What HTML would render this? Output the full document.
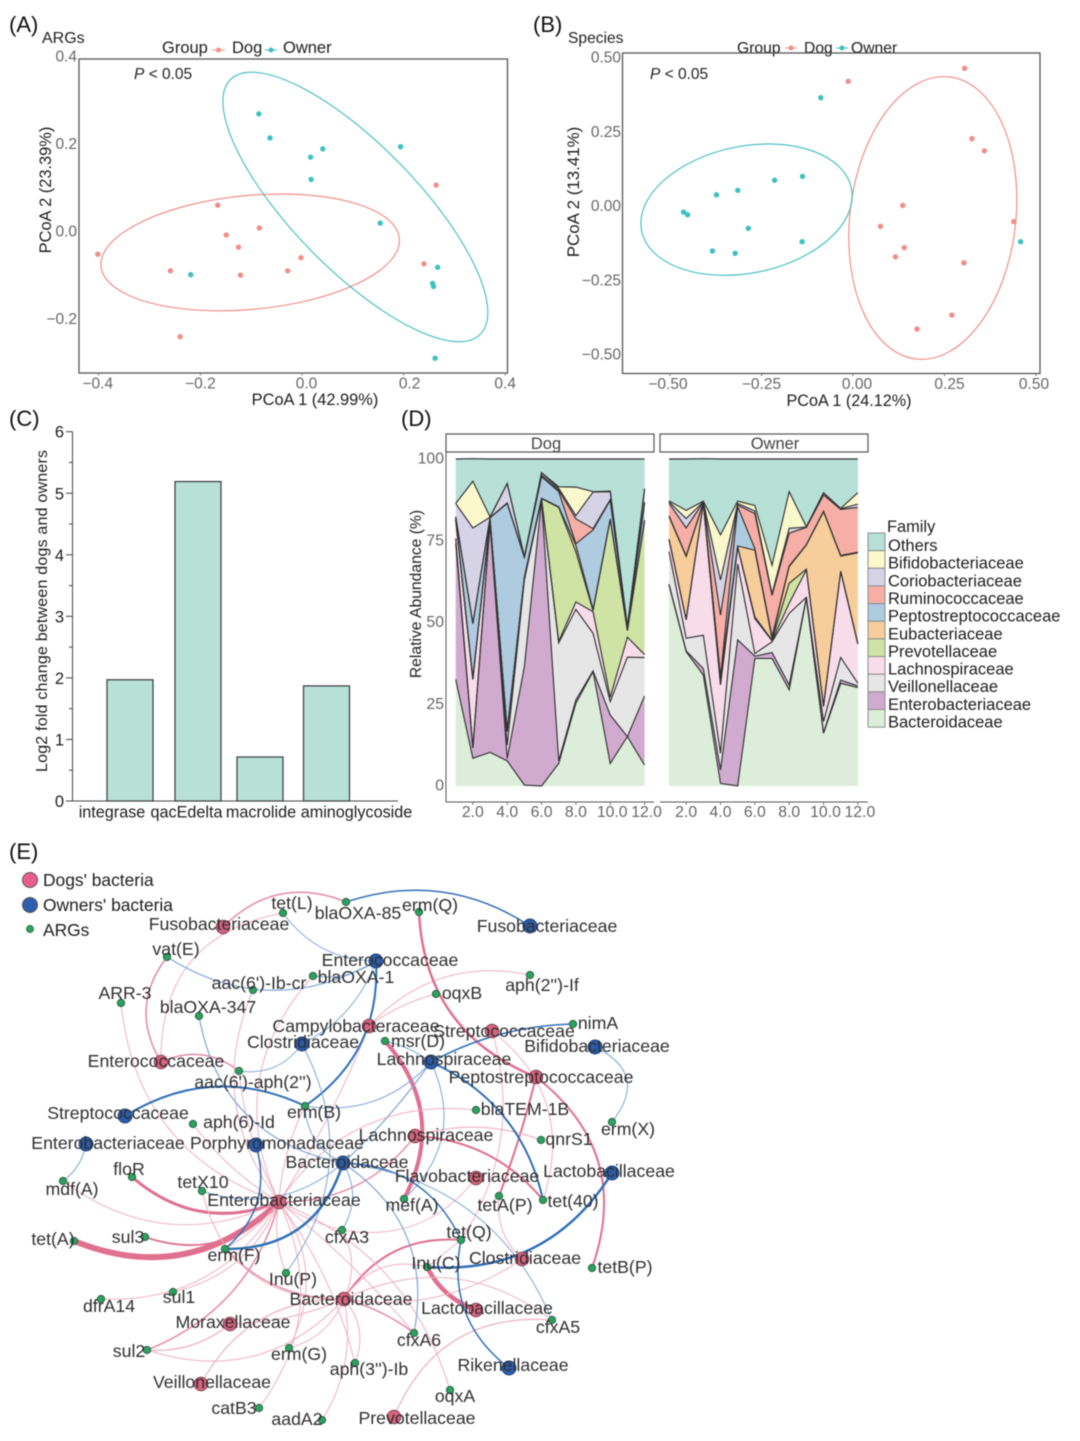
<!DOCTYPE html>
<html lang="en">
<head>
<meta charset="utf-8">
<title>ARG and microbiome comparison between dogs and owners</title>
<style>
html,body{margin:0;padding:0;background:#fff;width:1080px;height:1441px;overflow:hidden}
svg{display:block;filter:blur(.5px);font-family:"Liberation Sans",Arial,sans-serif}
text{fill:#202020}
.tick{fill:#666}
</style>
</head>
<body>
<svg id="figure" xmlns="http://www.w3.org/2000/svg" width="1080" height="1441" viewBox="0 0 1080 1441">
  <rect x="0" y="0" width="1080" height="1441" fill="#fff"/>
  <text x="9" y="32" font-size="22" style="fill:#111">(A)</text>
  <text x="533" y="32" font-size="22" style="fill:#111">(B)</text>
  <text x="9" y="426" font-size="22" style="fill:#111">(C)</text>
  <text x="401" y="426" font-size="22" style="fill:#111">(D)</text>
  <text x="9" y="859" font-size="22" style="fill:#111">(E)</text>

  <text x="42" y="43" font-size="16">ARGs</text>
  <text x="162" y="53" font-size="16.5">Group</text>
  <line x1="212" y1="50" x2="225" y2="50" stroke="#f28e86"/>
  <circle cx="218.5" cy="50" r="2.5" fill="#f28e86"/>
  <text x="232" y="53" font-size="16.5">Dog</text>
  <line x1="265" y1="50" x2="277" y2="50" stroke="#3fc0c3"/>
  <circle cx="271" cy="50" r="2.5" fill="#3fc0c3"/>
  <text x="283" y="53" font-size="16.5">Owner</text>
  <text x="134" y="79" font-size="15.5"><tspan font-style="italic">P</tspan> &lt; 0.05</text>
  <text x="315" y="405" font-size="16.4" text-anchor="middle">PCoA 1 (42.99%)</text>
  <text transform="translate(51,190) rotate(-90)" font-size="16.4" text-anchor="middle">PCoA 2 (23.39%)</text>

  <text x="568" y="43" font-size="15.6">Species</text>
  <text x="737" y="53" font-size="15.7">Group</text>
  <line x1="785" y1="48" x2="797" y2="48" stroke="#f28e86"/>
  <circle cx="791" cy="48" r="2.5" fill="#f28e86"/>
  <text x="804" y="53" font-size="15.7">Dog</text>
  <line x1="836" y1="48" x2="848" y2="48" stroke="#3fc0c3"/>
  <circle cx="842" cy="48" r="2.5" fill="#3fc0c3"/>
  <text x="851" y="53" font-size="15.7">Owner</text>
  <text x="650" y="79" font-size="15.5"><tspan font-style="italic">P</tspan> &lt; 0.05</text>
  <text x="849" y="406" font-size="16.2" text-anchor="middle">PCoA 1 (24.12%)</text>
  <text transform="translate(579,192) rotate(-90)" font-size="16.9" text-anchor="middle">PCoA 2 (13.41%)</text>

  <text transform="translate(47,611) rotate(-90)" font-size="16" text-anchor="middle" textLength="322">Log2 fold change between dogs and owners</text>

  <text transform="translate(421,594) rotate(-90)" font-size="15.7" text-anchor="middle">Relative Abundance (%)</text>
  <rect x="446" y="434" width="208" height="18" fill="#fff" stroke="#555" stroke-width="1.2"/>
  <text x="546" y="449" font-size="16.5" text-anchor="middle" style="fill:#444">Dog</text>
  <rect x="660" y="434" width="208" height="18" fill="#fff" stroke="#555" stroke-width="1.2"/>
  <text x="775" y="449" font-size="16.5" text-anchor="middle" style="fill:#444">Owner</text>
  <text x="887" y="532" font-size="16.4">Family</text>

  <circle cx="30" cy="880" r="7.5" fill="#e85d8a" stroke="#555"/>
  <text x="43" y="886" font-size="17.4">Dogs' bacteria</text>
  <circle cx="30" cy="905" r="7.5" fill="#2f5cab" stroke="#555"/>
  <text x="43" y="911" font-size="17.4">Owners' bacteria</text>
  <circle cx="30" cy="929" r="3.6" fill="#2ca25f" stroke="#2b5b3e" stroke-width=".7"/>
  <text x="43" y="936" font-size="17.4">ARGs</text>

  <g id="panel-a"></g>
  <g id="panel-b"></g>
  <g id="panel-c"></g>
  <g id="panel-d"></g>
  <g id="panel-e"></g>
</svg>

<script>
/* ---------- Panel A data ---------- */
const argsDogX=[-0.402,-0.259,-0.240,-0.166,-0.149,-0.125,-0.121,-0.084,-0.028,-0.002,0.240,0.264];
const argsDogY=[-0.053,-0.091,-0.242,0.059,-0.009,-0.037,-0.101,0.007,-0.091,-0.061,-0.075,0.105];
const argsOwnerX=[-0.219,-0.085,-0.063,0.017,0.041,0.018,0.194,0.154,0.267,0.257,0.259,0.262];
const argsOwnerY=[-0.100,0.268,0.213,0.169,0.188,0.118,0.193,0.018,-0.083,-0.120,-0.127,-0.291];
const argsDogCentre=[-0.102,-0.049];
const argsOwnerCentre=[0.105,0.055];
const argsXTicks=[-0.4,-0.2,0,0.2,0.4];
const argsYTicks=[-0.2,0,0.2,0.4];

/* ---------- Panel B data ---------- */
const speciesDogX=[-0.013,0.305,0.325,0.359,0.136,0.075,0.140,0.116,0.303,0.439,0.270,0.175];
const speciesDogY=[0.418,0.462,0.225,0.184,0.000,-0.070,-0.142,-0.173,-0.193,-0.054,-0.369,-0.416];
const speciesOwnerX=[-0.088,-0.138,-0.214,-0.315,-0.373,-0.463,-0.452,-0.286,-0.139,-0.384,-0.322,0.458];
const speciesOwnerY=[0.363,0.098,0.085,0.051,0.036,-0.022,-0.031,-0.077,-0.122,-0.153,-0.161,-0.122];
const speciesDogCentre=[0.218,-0.042];
const speciesOwnerCentre=[-0.291,-0.014];
const speciesXTicks=[-0.5,-0.25,0,0.25,0.5];
const speciesYTicks=[-0.5,-0.25,0,0.25,0.5];

/* ---------- Panel C data ---------- */
const geneCategories=['integrase','qacEdelta','macrolide','aminoglycoside'];
const geneFoldChange=[1.97,5.19,0.715,1.87];
const foldTicks=[0,1,2,3,4,5,6];

/* ---------- Panel D data (percent per family, per sample) ---------- */
const families=['Others','Bifidobacteriaceae','Coriobacteriaceae','Ruminococcaceae','Peptostreptococcaceae','Eubacteriaceae','Prevotellaceae','Lachnospiraceae','Veillonellaceae','Enterobacteriaceae','Bacteroidaceae'];
const sampleIds=[1,2,3,4,5,6,7,8,9,10,11,12];
const sampleTicks=[2,4,6,8,10,12];
const abundanceTicks=[0,25,50,75,100];
const dogBacteroidaceae=[32.6,8.5,10.3,7.7,0.3,0,6.9,25.3,35.0,6.9,15.1,6.4];
const dogEnterobacteriaceae=[41.6,3.1,70.0,0.7,36.2,87.5,0.8,1.0,0.2,14.8,0,21.1];
const dogVeillonellaceae=[1.5,0.2,0.5,4.1,26.5,0.2,36.1,27.7,11.5,4.1,24.3,11.8];
const dogLachnospiraceae=[5.6,20.7,0.5,4.1,0.5,0.1,0.4,2.3,6.6,1.3,6.1,0.9];
const dogPrevotellaceae=[0.2,0.2,0.2,0.2,0.2,0.1,41.0,15.3,0.3,54.4,2.0,40.6];
const dogEubacteriaceae=[0.2,0.2,0.2,0.2,0.2,0.1,0.2,2.0,0.4,0.2,0.2,0.5];
const dogPeptostreptococcaceae=[0.6,16.7,0.3,69.4,6.0,6.6,4.6,0.5,24.3,5.7,0.5,5.1];
const dogRuminococcaceae=[0,0.2,0.1,0.2,0.1,0.5,0.5,7.6,0.4,0.2,0.2,0.5];
const dogCoriobacteriaceae=[4.1,29.1,0.1,5.9,0.1,0.7,0.5,1.0,11.2,2.4,0.2,3.6];
const dogBifidobacteriaceae=[0,14.3,0.1,0,0,0,0.5,8.7,0.1,0.2,0.1,0.5];
const dogOthers=[13.6,6.9,17.7,7.5,29.9,4.2,8.5,8.6,10.0,9.8,51.3,9.0];
const ownerBacteroidaceae=[61.5,41.1,33.9,0.8,0,39.0,39.0,29.4,57.4,16.1,31.4,30.1];
const ownerEnterobacteriaceae=[0.2,0.2,2.0,4.1,44.7,0.7,1.8,1.5,0.2,0.2,1.0,0.5];
const ownerVeillonellaceae=[10.0,3.9,10.2,5.1,23.2,0.8,3.3,21.9,0.1,3.4,6.9,0.8];
const ownerLachnospiraceae=[3.6,5.6,40.3,20.9,5.1,10.7,0.3,3.1,8.4,4.6,26.2,12.0];
const ownerPrevotellaceae=[0.2,0.2,0.1,0.5,0.2,0.5,0.2,6.1,0.2,0.2,0.2,0.2];
const ownerEubacteriaceae=[6.9,19.2,0.1,1.5,0.2,20.4,0.5,5.1,7.4,59.4,4.6,27.7];
const ownerPeptostreptococcaceae=[0.2,0.2,0.1,0.5,12.0,0.5,0.5,0.2,0.1,0.1,0.2,0.2];
const ownerRuminococcaceae=[3.9,8.5,0.1,18.9,0.5,10.7,12.7,10.0,5.3,5.0,14.1,13.7];
const ownerCoriobacteriaceae=[0.4,2.9,0.1,10.7,0.5,0.8,0.5,1.5,0.1,0.1,0.2,1.0];
const ownerBifidobacteriaceae=[0.3,2.5,0.2,13.8,0.7,1.7,8.7,11.2,0.1,0.6,0.1,3.5];
const ownerOthers=[12.8,15.7,13.0,23.2,12.9,14.2,32.5,10.0,20.7,10.3,15.1,10.3];

/* ---------- Panel E data ---------- */
const networkNodes=[
['tetL','tet(L)','a',283,913,292,903],['b85','blaOXA-85','a',346,902,358,913],['ermQ','erm(Q)','a',419,912,430,905],
['vatE','vat(E)','a',167,957,176,949],['aacIb',"aac(6')-Ib-cr",'a',253,990,259,983],['b1','blaOXA-1','a',313,976,356,977],
['arr3','ARR-3','a',121,1003,125,993],['b347','blaOXA-347','a',199,1016,208,1007],['aacAph',"aac(6')-aph(2'')",'a',239,1071,253,1082],
['ermB','erm(B)','a',305,1106,314,1112],['aph6','aph(6)-Id','a',193,1124,239,1122],['oqxB','oqxB','a',436,994,462,993],
['aph2',"aph(2'')-If",'a',530,975,542,985],['msrD','msr(D)','a',385,1041,418,1041],['nimA','nimA','a',573,1024,598,1023],
['tem','blaTEM-1B','a',476,1110,525,1109],['qnr','qnrS1','a',541,1140,569,1139],['ermX','erm(X)','a',612,1122,628,1129],
['mdfA','mdf(A)','a',63,1181,72,1189],['floR','floR','a',132,1177,129,1169],['tetX','tetX10','a',202,1191,203,1182],
['tetA','tet(A)','a',74,1241,53,1239],['sul3','sul3','a',145,1237,128,1237],['ermF','erm(F)','a',225,1249,234,1255],
['inuP','Inu(P)','a',286,1273,293,1279],['sul1','sul1','a',173,1292,179,1297],['dfr','dfrA14','a',101,1299,109,1306],
['sul2','sul2','a',147,1350,129,1351],['ermG','erm(G)','a',289,1348,299,1354],['catB','catB3','a',259,1408,234,1408],
['aadA','aadA2','a',322,1420,297,1419],['cfx3','cfxA3','a',342,1230,347,1237],['mefA','mef(A)','a',404,1199,412,1205],
['tetAP','tetA(P)','a',499,1196,505,1205],['tet40','tet(40)','a',543,1200,573,1201],['tetQ','tet(Q)','a',461,1240,469,1232],
['inuC','Inu(C)','a',427,1267,436,1263],['tetBP','tetB(P)','a',592,1268,625,1267],['cfx5','cfxA5','a',552,1320,558,1327],
['cfx6','cfxA6','a',414,1333,419,1340],['aph3',"aph(3'')-Ib",'a',355,1363,369,1369],['oqxA','oqxA','a',450,1390,455,1396],
['fusoD','Fusobacteriaceae','d',223,927,219,924],['entcD','Enterococcaceae','d',161,1062,156,1061],['campD','Campylobacteraceae','d',369,1026,356,1026],
['strepD','Streptococcaceae','d',492,1031,504,1031],['peptD','Peptostreptococcaceae','d',536,1077,541,1077],['lachD','Lachnospiraceae','d',415,1136,426,1135],
['flavD','Flavobacteriaceae','d',476,1178,467,1176],['entbD','Enterobacteriaceae','d',279,1202,284,1200],['bactD','Bacteroidaceae','d',344,1299,351,1299],
['moraD','Moraxellaceae','d',230,1324,233,1322],['veilD','Veillonellaceae','d',201,1384,212,1382],['closD','Clostridiaceae','d',522,1259,525,1258],
['lactD','Lactobacillaceae','d',476,1310,487,1308],['prevD','Prevotellaceae','d',394,1417,417,1418],
['fusoO','Fusobacteriaceae','o',530,926,547,926],['entcO','Enterococcaceae','o',376,961,390,960],['closO','Clostridiaceae','o',302,1044,303,1042],
['lachO','Lachnospiraceae','o',431,1062,444,1059],['bifiO','Bifidobacteriaceae','o',595,1047,597,1046],['strepO','Streptococcaceae','o',125,1116,118,1113],
['entbO','Enterobacteriaceae','o',86,1144,108,1143],['porpO','Porphyromonadaceae','o',256,1145,277,1143],['bactO','Bacteroidaceae','o',343,1163,347,1162],
['lactO','Lactobacillaceae','o',612,1173,609,1171],['rikeO','Rikenellaceae','o',509,1368,513,1365]
];
const blueEdges=[
['b85','fusoO',1.5,.24],['tetL','entcO',1,-.25],['vatE','entcO',1.2,-.3],['b1','entcO',1,-.2],['entcO','ermB',2,.28],['entcO','closO',1,.2],
['closO','aacAph',1,.3],['closO','inuP',1,.31],['b347','bactO',1.2,-.34],['strepO','ermB',2,.27],['entbO','mdfA',1,.2],['porpO','ermF',1.5,.32],
['ermF','bactO',2.5,-.37],['tetX','bactO',1,-.28],['lachO','msrD',1,-.1],['lachO','nimA',1.5,.12],['lachO','ermB',1,.27],['lachO','bactO',1.2,.05],
['lachO','tet40',2,.25],['lachO','mefA',1,.36],['bifiO','ermX',1,.62],['bactO','cfx3',1,.3],['bactO','cfx6',1.2,.33],['bactO','tetQ',1.5,.31],
['bactO','cfx5',1,.29],['tetQ','rikeO',1.5,-.31],['inuC','lactO',2.5,-.3],['ermB','bactO',1,-.3]
];
const pinkEdges=[
['fusoD','b85',1.5,.33],['tetL','entcD',1,-.42],['vatE','entcD',1.5,-.34],['entcD','aacAph',1.5,.3],['arr3','entbD',1,-.32],['aacIb','entbD',1,-.29],
['b1','entbD',1,-.33],['aacAph','entbD',1,-.1],['aph6','entbD',1,-.1],['campD','oqxB',1,.1],['campD','aph2',1,.28],['campD','entbD',1,.05],
['ermQ','peptD',2.5,-.32],['peptD','tetAP',2,.03],['peptD','tetBP',2,.36],['strepD','tet40',1,.35],['strepD','tetQ',1,.23],['tetAP','closD',1,-.25],
['msrD','mefA',4,.34],['lachD','tet40',2,.22],['lachD','qnr',1.2,.17],['lachD','entbD',1.4,.25],['tem','entbD',1,-.3],['flavD','cfx3',1,.3],
['tetQ','bactD',2,-.3],['inuC','lactD',4.5,-.2],['inuC','bactD',1,-.35],['tetQ','inuC',1,0],['closD','bactD',1,.2],['cfx5','prevD',1.2,-.36],
['cfx5','bactD',1,-.3],['bactD','cfx6',1.5,.1],['ermF','bactD',1.5,-.22],['sul2','bactD',1,-.32],['ermG','bactD',1,-.25],['aph3','bactD',1,-.3],
['aadA','bactD',1,-.2],['bactD','moraD',1,.1],['moraD','sul2',1.2,.2],['veilD','bactD',1.2,.3],['entbD','sul2',1.5,.25],['tetA','entbD',6,-.32],
['floR','entbD',3,-.3],['sul3','entbD',1.8,-.33],['mdfA','entbD',1,-.3],['tetX','bactD',1,-.4],['sul1','entbD',1,-.26],['dfr','entbD',1,-.3],
['entbD','ermG',1,.3],['catB','entbD',1,-.3],['entbD','oqxA',1,.24],['entbD','aph3',1,.1],['entbD','cfx3',1,-.1],['entbD','cfx6',1,.05],
['entbD','ermB',1,.1],['entbD','inuP',1,-.15],['entbD','ermF',1,.1],['cfx3','bactD',1,.25]
];

/* ---------- helpers ---------- */
const NS='http://www.w3.org/2000/svg';
function make(tag,attrs,parent){
  const n=document.createElementNS(NS,tag);
  for(const k in attrs){n.setAttribute(k,attrs[k]);}
  parent.appendChild(n);
  return n;
}
function minusFmt(v,d){return (v<0?'\u2212':'')+Math.abs(v).toFixed(d);}
function ellipsePath(cx,cy,a,b,deg){
  const t=deg*Math.PI/180,c=Math.cos(t),s=Math.sin(t);
  const ax=a*c,ay=a*s;
  return 'M'+(cx-ax)+','+(cy-ay)+' A'+a+','+b+' '+deg+' 1 1 '+(cx+ax)+','+(cy+ay)+' A'+a+','+b+' '+deg+' 1 1 '+(cx-ax)+','+(cy-ay)+'Z';
}

/* ---------- PCoA panels ---------- */
function drawPcoa(root,prefix,box,sx,sy,xt,yt,dec,dogX,dogY,ownX,ownY,dogE,ownE,yLabelRight,nudge){
  const frame=make('rect',{x:box[0],y:box[1],width:box[2]-box[0],height:box[3]-box[1],fill:'none',stroke:'#555','stroke-width':1.3},root);
  
  
  xt.forEach(function(v,i){
    const t=make('text',{x:sx(v)+nudge[i],y:box[3]+15.5,'font-size':15.5,'text-anchor':'middle',class:'tick'},root);
    t.textContent=minusFmt(v,dec);
    
    
    const m=make('line',{x1:sx(v),x2:sx(v),y1:box[3],y2:box[3]+2.5,stroke:'#777'},root);
    
    
  });
  yt.forEach(function(v){
    const t=make('text',{x:yLabelRight,y:sy(v)+5.5,'font-size':15.5,'text-anchor':'end',class:'tick'},root);
    t.textContent=minusFmt(v,dec);
    
    
  });
  const e1=make('path',{d:ellipsePath(sx(dogE.c[0]),sy(dogE.c[1]),dogE.a,dogE.b,dogE.r),fill:'none',stroke:'#f0867e','stroke-width':1.1},root);
  
  
  const e2=make('path',{d:ellipsePath(sx(ownE.c[0]),sy(ownE.c[1]),ownE.a,ownE.b,ownE.r),fill:'none',stroke:'#3dbcc2','stroke-width':1.1},root);
  
  
  dogX.forEach(function(v,i){
    const p=make('circle',{cx:sx(v),cy:sy(dogY[i]),r:2.7,fill:'#f28e86'},root);
    
    
  });
  ownX.forEach(function(v,i){
    const p=make('circle',{cx:sx(v),cy:sy(ownY[i]),r:2.7,fill:'#3fc0c3'},root);
    
    
  });
}
const axA=function(v){return 302+508*v;};
const ayA=function(v){return 231-437*v;};
drawPcoa(document.getElementById('panel-a'),'panel-a',[79,59,507.5,373],axA,ayA,argsXTicks,argsYTicks,1,
  argsDogX,argsDogY,argsOwnerX,argsOwnerY,
  {c:argsDogCentre,a:149.8,b:56.9,r:-5.34},{c:argsOwnerCentre,a:178.4,b:62.2,r:45.63},77,[-1,0,4.5,6,0]);
const axB=function(v){return 853+366*v;};
const ayB=function(v){return 205.5-297*v;};
drawPcoa(document.getElementById('panel-b'),'panel-b',[622.5,53,1040,373.5],axB,ayB,speciesXTicks,speciesYTicks,2,
  speciesDogX,speciesDogY,speciesOwnerX,speciesOwnerY,
  {c:speciesDogCentre,a:142,b:82.9,r:-83.2},{c:speciesOwnerCentre,a:107,b:63.4,r:-11.46},621,[-2,0,4,5,-2]);

/* ---------- Panel C ---------- */
(function(){
  const root=document.getElementById('panel-c');
  const yC=function(v){return 801-61.55*v;};
  const xC=function(i){return 130+65.5*i;};
  const barShift=[0,2.5,-1,0];
  const labelShift=[-18,-9,0,30];
  const axisY=make('line',{x1:72.5,x2:72.5,y1:yC(6),y2:yC(0),stroke:'#444','stroke-width':1},root);
  
  
  const axisX=make('line',{x1:66,x2:398,y1:yC(0),y2:yC(0),stroke:'#444','stroke-width':1},root);
  
  
  foldTicks.forEach(function(v){
    const m=make('line',{x1:66,x2:72.5,y1:yC(v),y2:yC(v),stroke:'#444'},root);
    
    
    if(v<6){
      const mm=make('line',{x1:69,x2:72.5,y1:yC(v+.5),y2:yC(v+.5),stroke:'#444'},root);
      
      
    }
    const t=make('text',{x:64,y:yC(v)+6,'font-size':16.5,'text-anchor':'end'},root);
    t.textContent=String(v);
    
    
  });
  geneCategories.forEach(function(c,i){
    const r=make('rect',{x:xC(i)+barShift[i]-23,y:yC(geneFoldChange[i]),width:46,height:yC(0)-yC(geneFoldChange[i]),fill:'#b7e0d7',stroke:'#3a3a3a','stroke-width':1.2},root);
    
    
    const t=make('text',{x:xC(i)+labelShift[i],y:817.5,'font-size':16.2,'text-anchor':'middle'},root);
    t.textContent=c;
    
    
  });
})();

/* ---------- Panel D ---------- */
(function(){
  const root=document.getElementById('panel-d');
  const yD=function(v){return 786-3.27*v;};
  const colours=['#b7e0d7','#fbf8cd','#d6d3e7','#f6aea6','#aecbe0','#f7cd9b','#cfe3a4','#f8dcea','#e6e6e6','#d1abcf','#dcedd9'];
  const dogStack=[dogBacteroidaceae,dogEnterobacteriaceae,dogVeillonellaceae,dogLachnospiraceae,dogPrevotellaceae,dogEubacteriaceae,dogPeptostreptococcaceae,dogRuminococcaceae,dogCoriobacteriaceae,dogBifidobacteriaceae,dogOthers];
  const ownerStack=[ownerBacteroidaceae,ownerEnterobacteriaceae,ownerVeillonellaceae,ownerLachnospiraceae,ownerPrevotellaceae,ownerEubacteriaceae,ownerPeptostreptococcaceae,ownerRuminococcaceae,ownerCoriobacteriaceae,ownerBifidobacteriaceae,ownerOthers];
  const bottomUp=families.slice().reverse();
  const bottomUpColours=colours.slice().reverse();

  function facet(stack,x0,axisLeft,name){
    const xD=function(s){return x0+17.17*(s-1);};
    let lower=sampleIds.map(function(){return 0;});
    const lines=[];
    stack.forEach(function(series,k){
      const upper=lower.map(function(v,i){return v+series[i];});
      const topPts=sampleIds.map(function(s,i){return xD(s)+','+yD(upper[i]);});
      const lowPts=sampleIds.map(function(s,i){return xD(s)+','+yD(lower[i]);}).reverse();
      const a=make('polygon',{points:topPts.concat(lowPts).join(' '),fill:bottomUpColours[k],stroke:'none'},root);
      
      
      lines.push(topPts.join(' '));
      lower=upper;
    });
    lines.forEach(function(pts,k){
      const l=make('polyline',{points:pts,fill:'none',stroke:'#333','stroke-width':1.15,'stroke-linejoin':'miter'},root);
      
      
    });
    const ax=make('line',{x1:axisLeft,x2:axisLeft+208,y1:802,y2:802,stroke:'#555','stroke-width':1},root);
    
    
    sampleTicks.forEach(function(s){
      const m=make('line',{x1:xD(s),x2:xD(s),y1:802,y2:805,stroke:'#777'},root);
      
      
      const t=make('text',{x:xD(s)+(s>=10?2:0),y:817,'font-size':15.8,'text-anchor':'middle',class:'tick'},root);
      t.textContent=s.toFixed(1);
      
      
    });
  }
  facet(dogStack,455.7,446,'dog-facet');
  facet(ownerStack,669,660,'owner-facet');

  const yAxis=make('line',{x1:446,x2:446,y1:452,y2:802,stroke:'#555','stroke-width':1},root);
  
  
  abundanceTicks.forEach(function(v){
    const t=make('text',{x:444,y:yD(v)+4.5,'font-size':15.8,'text-anchor':'end',class:'tick'},root);
    t.textContent=String(v);
    
    
  });
  families.forEach(function(f,i){
    const r=make('rect',{x:868,y:533+i*17.65,width:17,height:17.65,fill:colours[i],stroke:'#8a8f8c','stroke-width':1},root);
    
    
    const t=make('text',{x:888,y:551+i*17.65,'font-size':16.5},root);
    t.textContent=f;
    
    
  });
})();

/* ---------- Panel E ---------- */
(function(){
  const root=document.getElementById('panel-e');
  const byId={};
  networkNodes.forEach(function(n){byId[n[0]]=n;});
  function curve(a,b,bend){
    const x1=byId[a][3],y1=byId[a][4],x2=byId[b][3],y2=byId[b][4];
    const dx=x2-x1,dy=y2-y1;
    const cx=(x1+x2)/2+dy*bend,cy=(y1+y2)/2-dx*bend;
    return 'M'+x1+','+y1+' Q'+cx+','+cy+' '+x2+','+y2;
  }
  pinkEdges.forEach(function(e){
    const col=e[2]>=1.8?'#e0708f':(e[2]>=1.4?'#e58aa3':'#efb0c0');
    const p=make('path',{d:curve(e[0],e[1],e[3]),fill:'none',stroke:col,'stroke-width':e[2],'stroke-linecap':'round'},root);
    
    
  });
  blueEdges.forEach(function(e){
    const col=e[2]>=1.4?'#3070b8':'#7fa6d8';
    const p=make('path',{d:curve(e[0],e[1],e[3]),fill:'none',stroke:col,'stroke-width':e[2],'stroke-linecap':'round'},root);
    
    
  });
  networkNodes.forEach(function(n){
    const kind=n[2];
    const c=make('circle',{cx:n[3],cy:n[4],r:kind==='a'?3.7:(kind==='d'?6.8:7),
      fill:kind==='a'?'#2ca25f':(kind==='d'?'#d9627f':'#2a5cab'),
      stroke:kind==='a'?'#2b5b3e':(kind==='d'?'#7a4050':'#24406f'),'stroke-width':.9},root);
    
    
  });
  networkNodes.forEach(function(n){
    const t=make('text',{x:n[5],y:n[6]+6,'font-size':17.7,'text-anchor':'middle',style:'fill:#303030'},root);
    t.textContent=n[1];
    
    
  });
})();
</script>
</body>
</html>
